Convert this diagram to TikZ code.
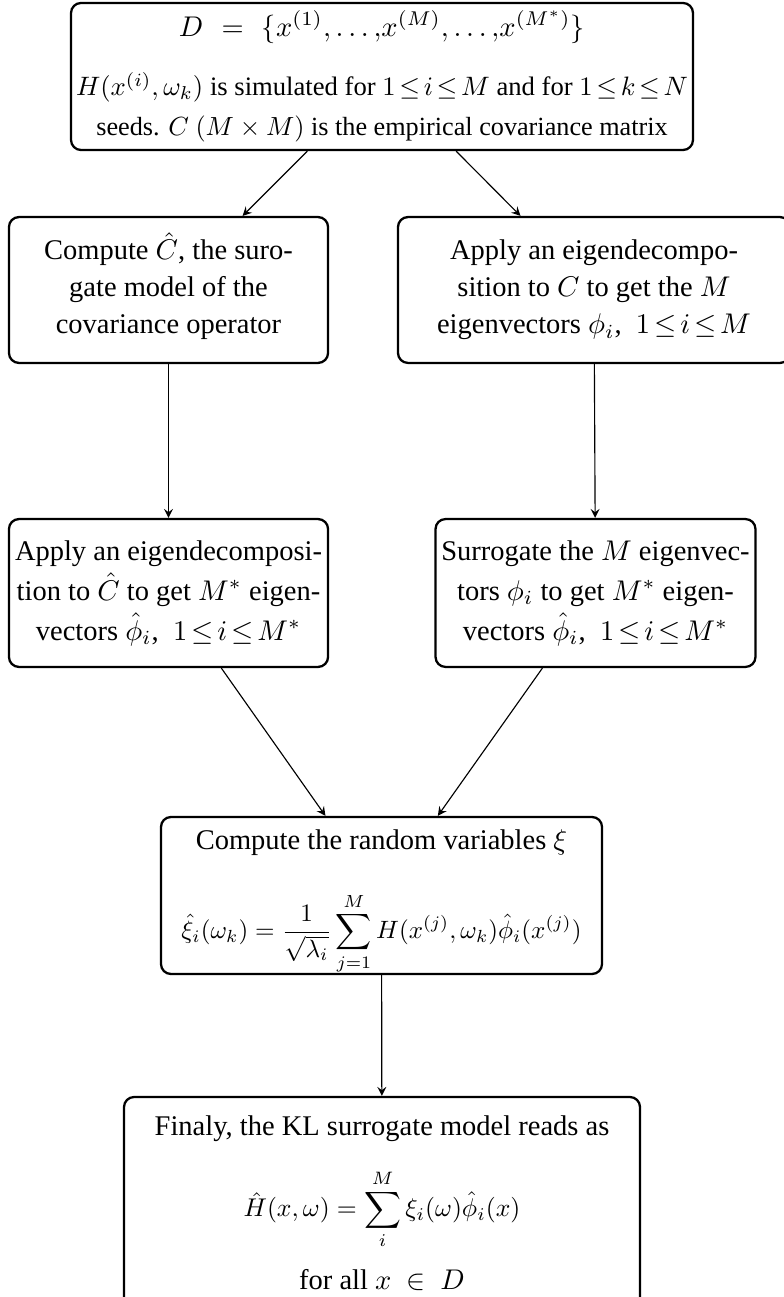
\documentclass[tikz,border=0pt]{standalone}
\usepackage[no-math]{fontspec}
\setmainfont{Liberation Serif}

\begin{document}
\begin{tikzpicture}[x=0.351pt,y=-0.351pt,>=stealth,
  box/.style={draw,thick,rounded corners=3.5pt,align=center,inner sep=0pt},
  tight/.style={execute at begin node={\thickmuskip=2.5mu}}]
\useasboundingbox (0,0) rectangle (784,1297);
\node[box,tight,minimum width=218.3pt,minimum height=51.6pt] (data) at (382,76.5)
  {$D\enspace=\enspace\{x^{(1)}{,}\ldots{,}x^{(M)}{,}\ldots{,}x^{(M^*)}\}$\\[9pt]
   \scalebox{0.935}{$H(x^{(i)},\omega_k)$ is simulated for $1\leq i\leq M$ and for $1\leq k\leq N$}\\[2pt]
   \scalebox{0.92}{seeds. $C$ $(M\times M)$ is the empirical covariance matrix}};
\node[box,minimum width=112pt,minimum height=51.2pt] (chat) at (168.5,290)
  {Compute $\smash{\hat{C}}$, the suro-\\[1pt] gate model of the\\[1pt] covariance operator};
\node[box,tight,minimum width=137.6pt,minimum height=51.2pt] (eigC) at (594,290)
  {Apply an eigendecompo-\\[1pt] sition to $C$ to get the $M$\\[1pt] eigenvectors $\phi_i$,~~$1\leq i\leq M$};
\node[box,tight,minimum width=112pt,minimum height=51.9pt] (eigChat) at (168.5,593)
  {Apply an eigendecomposi-\\[2pt] tion to $\hat{C}$ to get $M^*$ eigen-\\[2pt] vectors $\hat{\phi}_i$,~~$1\leq i\leq M^*$};
\node[box,tight,minimum width=112.3pt,minimum height=51.9pt] (surr) at (595.5,593)
  {Surrogate the $M$ eigenvec-\\[2pt] tors $\phi_i$ to get $M^*$ eigen-\\[2pt] vectors $\hat{\phi}_i$,~~$1\leq i\leq M^*$};
\node[box,minimum width=154.8pt,minimum height=55.1pt] (xi) at (381.5,895.5)
  {Compute the random variables $\xi$\\[12pt]
   \raisebox{0pt}[\height][8pt]{\scalebox{0.88}{$\displaystyle\hat{\xi}_i(\omega_k)=\frac{1}{\sqrt{\lambda_i}}\sum_{j=1}^{M}H(x^{(j)},\omega_k)\hat{\phi}_i(x^{(j)})$}}};
\node[box,minimum width=181.1pt,minimum height=74.4pt] (kl) at (382,1203)
  {Finaly, the KL surrogate model reads as\\[9pt]
   \scalebox{0.9}{$\displaystyle\hat{H}(x,\omega)=\sum_{i}^{M}\xi_i(\omega)\hat{\phi}_i(x)$}\\[6pt]
   for all $x\ \in\ D$};
\draw[->] (data) -- (chat);
\draw[->] (data) -- (eigC);
\draw[->] (chat) -- (eigChat);
\draw[->] (eigC) -- (surr);
\draw[->] (eigChat) -- (xi);
\draw[->] (surr) -- (xi);
\draw[->] (xi) -- (kl);
\end{tikzpicture}
\end{document}
